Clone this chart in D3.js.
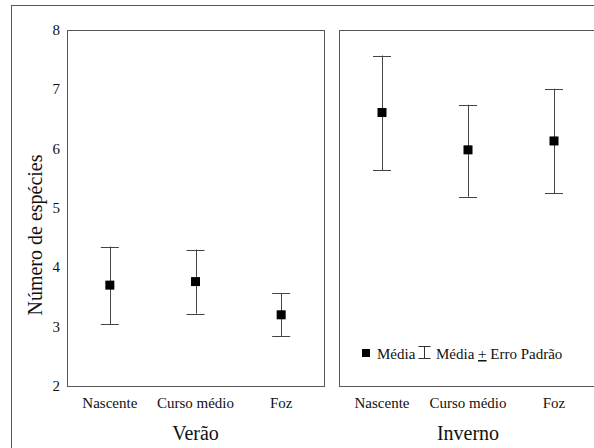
<!DOCTYPE html>
<html>
<head>
<meta charset="utf-8">
<script src="https://cdn.jsdelivr.net/npm/d3@7"></script>
<style>
  html, body { margin: 0; padding: 0; background: #fff; }
  svg { display: block; }
  svg text { font-family: "Liberation Serif", serif; }
</style>
</head>
<body>
<svg id="chart" width="594" height="448"></svg>
<script>
// Sampling sites along the stream
const sites = ["Nascente", "Curso médio", "Foz"];
const seasons = ["Verão", "Inverno"];

// Mean number of species per site, per season
const summerMean = [3.70, 3.76, 3.20];
const summerLow  = [3.04, 3.22, 2.84];
const summerHigh = [4.35, 4.30, 3.56];

const winterMean = [6.61, 5.98, 6.13];
const winterLow  = [5.64, 5.19, 5.25];
const winterHigh = [7.57, 6.74, 7.01];

const yTicks = [2, 3, 4, 5, 6, 7, 8];

const FONT = "Liberation Serif, serif";
const svg = d3.select("#chart");

// outer frame
svg.append("rect")
  .attr("x", 11.5).attr("y", 5.5)
  .attr("width", 700).attr("height", 600)
  .attr("fill", "none").attr("stroke", "#555").attr("stroke-width", 1);

const plotTop = 30, plotBottom = 386;
const y = d3.scaleLinear().domain([2, 8]).range([plotBottom, plotTop]);

const panels = [
  { name: seasons[0], x0: 67, x1: 324, mean: summerMean, low: summerLow, high: summerHigh },
  { name: seasons[1], x0: 339, x1: 597, mean: winterMean, low: winterLow, high: winterHigh }
];

panels.forEach(p => {
  const x = d3.scalePoint().domain(sites).range([p.x0, p.x1]).padding(0.5);
  const g = svg.append("g");

  // panel border
  g.append("rect")
    .attr("x", p.x0 + 0.5).attr("y", plotTop + 0.5)
    .attr("width", p.x1 - p.x0).attr("height", plotBottom - plotTop)
    .attr("fill", "none").attr("stroke", "#555").attr("stroke-width", 1);

  const rows = sites.map((s, i) => ({ s, m: p.mean[i], lo: p.low[i], hi: p.high[i] }));

  // error bars
  const eb = g.selectAll(".eb").data(rows).enter().append("g").attr("stroke", "#444").attr("stroke-width", 1);
  eb.append("line")
    .attr("x1", d => Math.round(x(d.s)) + 0.5).attr("x2", d => Math.round(x(d.s)) + 0.5)
    .attr("y1", d => y(d.hi)).attr("y2", d => y(d.lo));
  eb.append("line")
    .attr("x1", d => x(d.s) - 9).attr("x2", d => x(d.s) + 9)
    .attr("y1", d => Math.round(y(d.hi)) + 0.5).attr("y2", d => Math.round(y(d.hi)) + 0.5);
  eb.append("line")
    .attr("x1", d => x(d.s) - 9).attr("x2", d => x(d.s) + 9)
    .attr("y1", d => Math.round(y(d.lo)) + 0.5).attr("y2", d => Math.round(y(d.lo)) + 0.5);

  // mean markers
  g.selectAll(".m").data(rows).enter().append("rect")
    .attr("x", d => x(d.s) - 4.5).attr("y", d => y(d.m) - 4.5)
    .attr("width", 9).attr("height", 9).attr("fill", "#000");

  // category labels
  g.selectAll(".cl").data(sites).enter().append("text")
    .attr("x", d => x(d)).attr("y", 408)
    .attr("text-anchor", "middle").attr("font-family", FONT).attr("font-size", 15).attr("fill", "#111")
    .text(d => d);

  // season title
  g.append("text")
    .attr("x", (p.x0 + p.x1) / 2).attr("y", 440)
    .attr("text-anchor", "middle").attr("font-family", FONT).attr("font-size", 20).attr("fill", "#111")
    .text(p.name);
});

// y tick labels
svg.selectAll(".yt").data(yTicks).enter().append("text")
  .attr("x", 60).attr("y", d => y(d) + 5)
  .attr("text-anchor", "end").attr("font-family", FONT).attr("font-size", 15).attr("fill", "#111")
  .text(d => d);

// y axis title
svg.append("text")
  .attr("transform", "translate(42,235) rotate(-90)")
  .attr("text-anchor", "middle").attr("font-family", FONT).attr("font-size", 20).attr("fill", "#111")
  .text("Número de espécies");

// legend
const lg = svg.append("g");
lg.append("rect").attr("x", 362).attr("y", 349).attr("width", 8).attr("height", 8).attr("fill", "#000");
lg.append("text").attr("x", 377).attr("y", 359).attr("font-family", FONT).attr("font-size", 15).attr("fill", "#111").text("Média");
const ix = 424.5;
lg.append("line").attr("x1", ix).attr("x2", ix).attr("y1", 346).attr("y2", 358).attr("stroke", "#333");
lg.append("line").attr("x1", ix - 6).attr("x2", ix + 6).attr("y1", 346.5).attr("y2", 346.5).attr("stroke", "#333");
lg.append("line").attr("x1", ix - 6).attr("x2", ix + 6).attr("y1", 358.5).attr("y2", 358.5).attr("stroke", "#333");
const lt = lg.append("text").attr("x", 436).attr("y", 359).attr("font-family", FONT).attr("font-size", 15).attr("fill", "#111");
lt.append("tspan").text("Média ");
lt.append("tspan").attr("text-decoration", "underline").text("+");
lt.append("tspan").text(" Erro Padrão");
</script>
</body>
</html>
